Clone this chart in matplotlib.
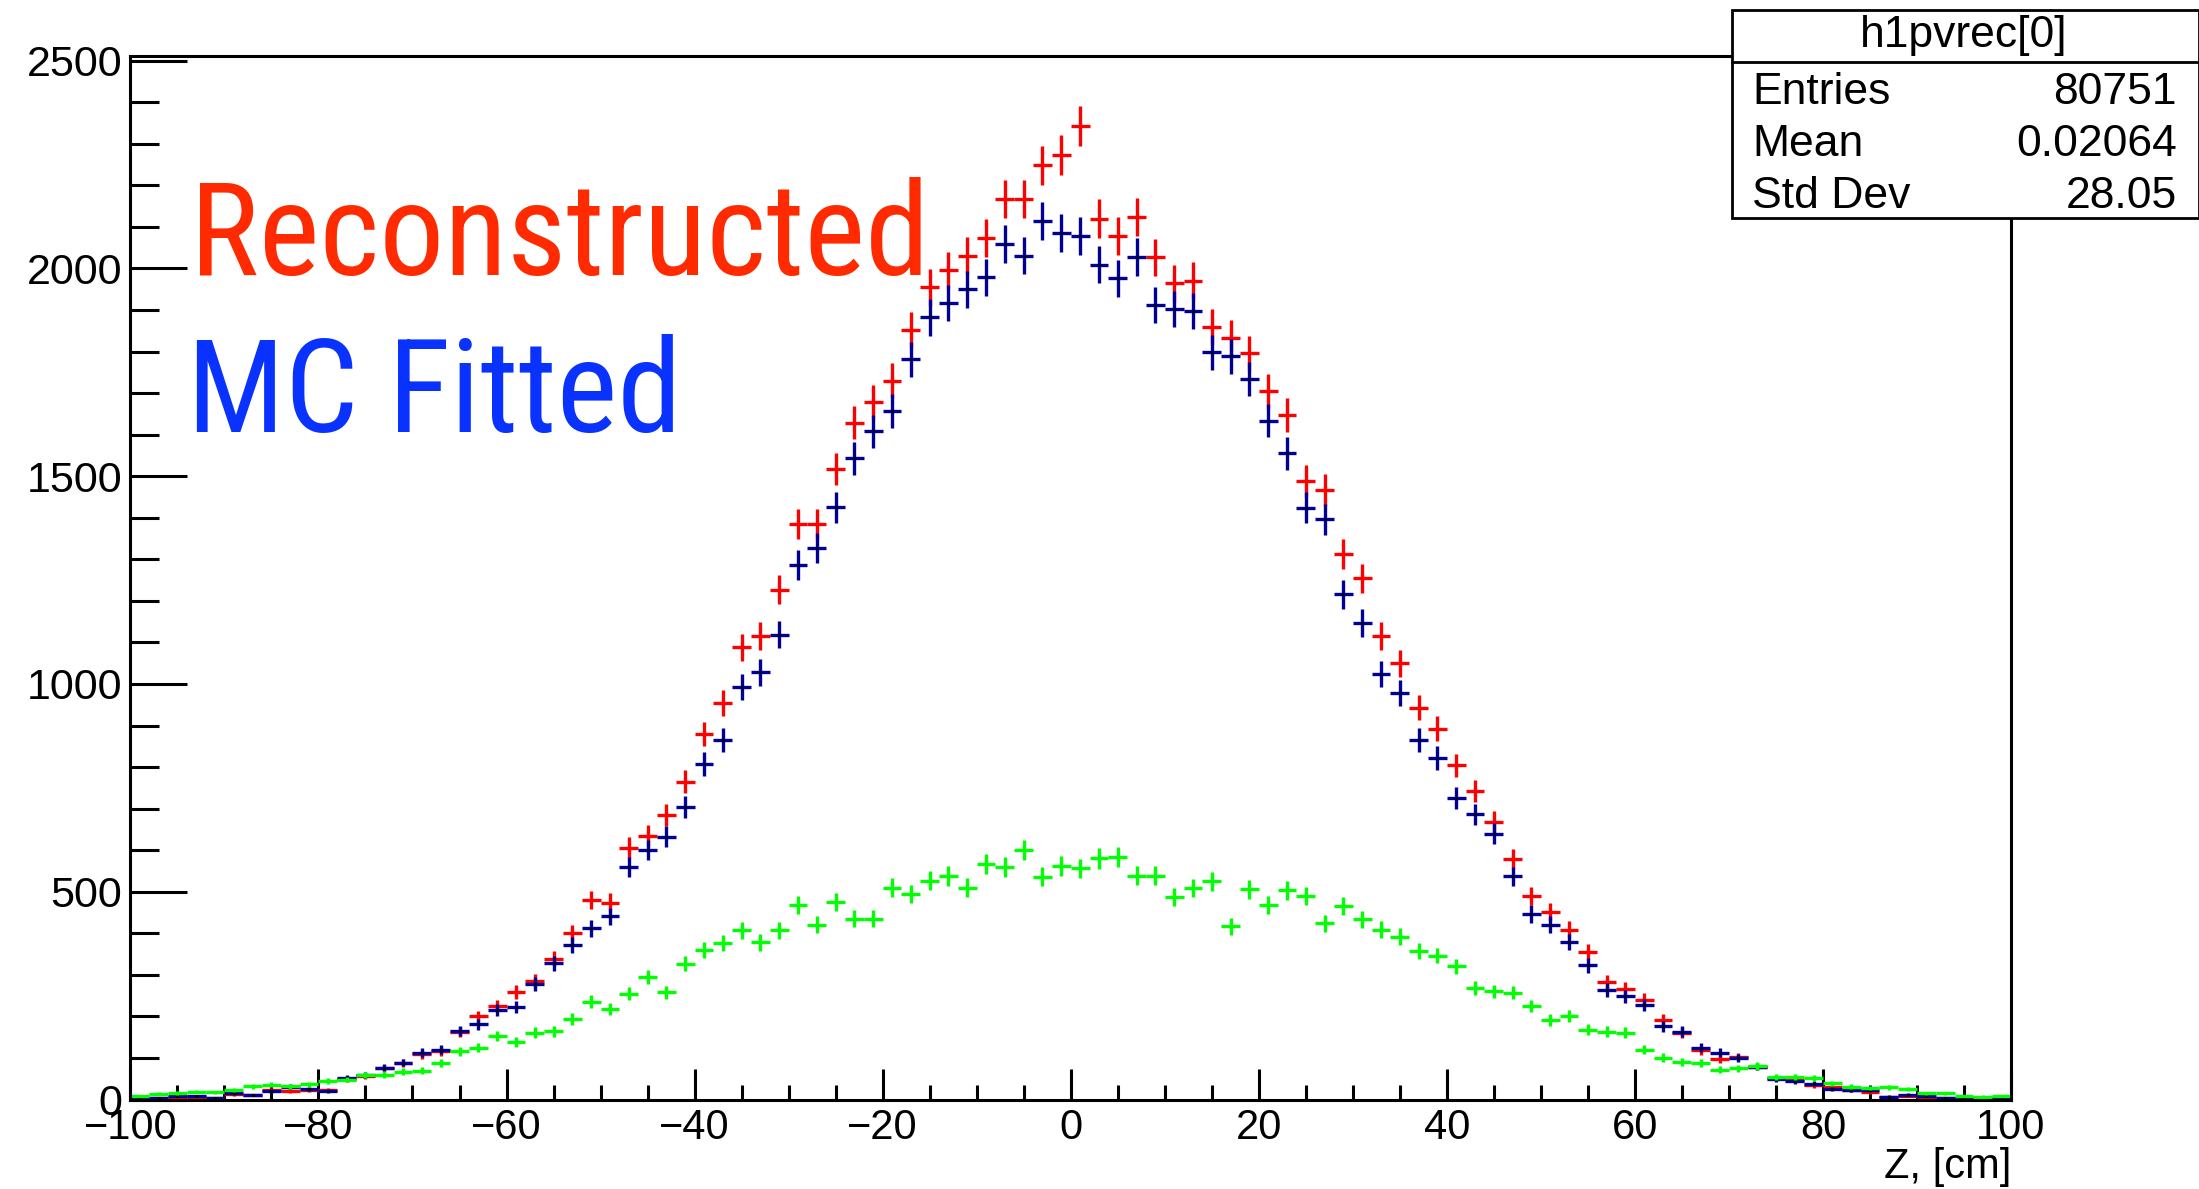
import numpy as np
import matplotlib
matplotlib.use("Agg")
import matplotlib.pyplot as plt
from matplotlib import font_manager as fm
from matplotlib.ticker import MultipleLocator
from matplotlib.patches import Rectangle
from matplotlib.lines import Line2D

# bin centres, 2 cm bins from -100 to 100
z = np.arange(-99, 100, 2)

reco = [4, 4, 5, 5, 4, 13, 11, 23, 21, 23,
        23, 50, 57, 75, 87, 109, 116, 162, 200, 225,
        259, 284, 339, 400, 480, 474, 606, 635, 684, 765,
        880, 955, 1088, 1115, 1227, 1385, 1385, 1518, 1629, 1678,
        1730, 1852, 1955, 1996, 2031, 2074, 2167, 2167, 2248, 2273,
        2343, 2120, 2079, 2124, 2027, 1964, 1970, 1860, 1833, 1796,
        1704, 1647, 1488, 1466, 1312, 1254, 1116, 1050, 943, 892,
        804, 742, 668, 578, 490, 451, 409, 355, 282, 266,
        240, 191, 161, 118, 97, 102, 79, 51, 46, 34,
        29, 23, 18, 5, 8, 3, 3, 2, 2, 2]

mc_fit = [3, 3, 8, 9, 3, 15, 11, 21, 31, 25,
          20, 52, 59, 77, 89, 113, 120, 165, 181, 215,
          223, 278, 328, 372, 412, 441, 559, 600, 632, 703,
          807, 865, 992, 1028, 1119, 1287, 1328, 1425, 1543, 1608,
          1657, 1781, 1882, 1917, 1950, 1979, 2058, 2031, 2115, 2085,
          2078, 2009, 1976, 2028, 1912, 1903, 1897, 1798, 1789, 1734,
          1634, 1555, 1424, 1396, 1216, 1146, 1024, 978, 865, 821,
          725, 686, 639, 537, 446, 421, 379, 323, 264, 248,
          227, 176, 163, 125, 113, 100, 79, 49, 44, 38,
          25, 22, 22, 7, 12, 8, 3, 3, 3, 3]

h_green = [8, 14, 16, 19, 17, 23, 32, 35, 32, 37,
           45, 48, 59, 60, 67, 69, 87, 116, 125, 152,
           139, 161, 164, 194, 235, 218, 255, 294, 258, 327,
           360, 377, 407, 378, 407, 467, 420, 476, 435, 435,
           510, 494, 526, 538, 510, 567, 559, 601, 536, 562,
           556, 580, 583, 539, 539, 488, 509, 525, 417, 506,
           469, 503, 489, 424, 466, 434, 409, 392, 358, 346,
           321, 269, 260, 257, 225, 191, 201, 168, 163, 161,
           120, 101, 91, 88, 72, 75, 81, 55, 55, 51,
           39, 31, 28, 29, 25, 15, 15, 9, 7, 9]

stats_title = "h1pvrec[0]"
stats_rows = [("Entries", "80751"), ("Mean", "0.02064"), ("Std Dev", "28.05")]

W, H = 2199, 1189
fx = lambda x: x / W
fy = lambda y: 1 - y / H

plt.rcParams['font.family'] = ['Liberation Sans', 'DejaVu Sans']

fig = plt.figure(figsize=(W / 100, H / 100), dpi=100)
ax = fig.add_axes([fx(130.4), fy(1099.5), fx(2011) - fx(130.4), fy(55.7) - fy(1099.5)])

lw = 2.4
for vals, col in [(reco, '#ff0000'), (mc_fit, '#000099'), (h_green, '#00ff00')]:
    v = np.array(vals, dtype=float)
    ax.errorbar(z, v, xerr=1.0, yerr=np.sqrt(v), fmt='none', ecolor=col,
                elinewidth=lw, capsize=0)
    if col == '#000099':
        ax.plot(z, v, 'o', ms=2.2, color='black', mew=0)

ax.set_xlim(-100, 100)
ax.set_ylim(0, 2512)
ax.xaxis.set_major_locator(MultipleLocator(20))
ax.xaxis.set_minor_locator(MultipleLocator(5))
ax.yaxis.set_major_locator(MultipleLocator(500))
ax.yaxis.set_minor_locator(MultipleLocator(100))
ax.tick_params(axis='x', which='major', direction='in', length=22, width=2.2,
               labelsize=30, pad=6, top=False)
ax.tick_params(axis='x', which='minor', direction='in', length=11, width=2.2, top=False)
ax.tick_params(axis='y', which='major', direction='in', length=41, width=2.2,
               labelsize=31, pad=6, right=False)
ax.tick_params(axis='y', which='minor', direction='in', length=21, width=2.2, right=False)
for s in ax.spines.values():
    s.set_linewidth(2.2)

fig.text(fx(2011), fy(1167), "Z, [cm]", ha='right', va='center', fontsize=30)

# stats box
box = Rectangle((fx(1732), fy(218)), fx(2199) - fx(1732), fy(10) - fy(218),
                transform=fig.transFigure, facecolor='white', edgecolor='black',
                lw=2.0, zorder=5)
fig.add_artist(box)
fig.add_artist(Line2D([fx(1732), fx(2199)], [fy(62), fy(62)],
                      transform=fig.transFigure, color='black', lw=2.0, zorder=6))
fig.text(fx(1964), fy(35), stats_title, ha='center', va='center', fontsize=32, zorder=7)
for i, (name, val) in enumerate(stats_rows):
    yy = fy(93 + 52 * i)
    fig.text(fx(1752), yy, name, ha='left', va='center', fontsize=32, zorder=7)
    fig.text(fx(2177), yy, val, ha='right', va='center', fontsize=32, zorder=7)

# big labels: the original is a narrow hand-written face, take the narrowest we have
names = {f.name for f in fm.fontManager.ttflist}
fam, stretch = 'DejaVu Sans', 'normal'
for c in ['Liberation Sans Narrow', 'Roboto Condensed', 'Open Sans Condensed',
          'Noto Sans Condensed', 'DejaVu Sans Condensed']:
    if c in names:
        fam = c
        break
else:
    cond = [f for f in fm.fontManager.ttflist
            if f.stretch in ('condensed', 'semi-condensed', 'extra-condensed')
            and f.name in ('DejaVu Sans', 'Noto Sans', 'Roboto', 'Open Sans', 'Lato')
            and f.weight in (400, 'normal', 'regular')]
    if cond:
        fam, stretch = cond[0].name, cond[0].stretch

t1 = fig.text(fx(190), fy(275), "Reconstructed", ha='left', va='baseline',
              fontsize=99, color='#ff2a00', family=fam, fontstretch=stretch)
t2 = fig.text(fx(187), fy(432), "MC Fitted", ha='left', va='baseline',
              fontsize=99, color='#0a32ff', family=fam, fontstretch=stretch)
fig.canvas.draw()
r = fig.canvas.get_renderer()
for t, target in [(t1, 740), (t2, 495)]:
    w = t.get_window_extent(r).width
    t.set_fontsize(t.get_fontsize() * target / w)

fig.savefig("out.png", dpi=100)
